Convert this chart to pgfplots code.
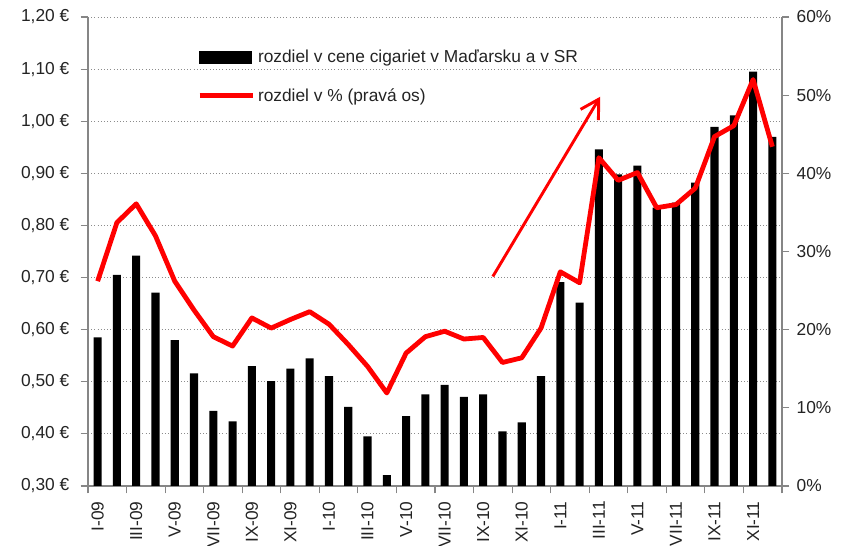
\documentclass[border=0pt]{standalone}
\usepackage{pgfplots}
\pgfplotsset{compat=1.18}
\usepackage{fontspec}
\setmainfont{Liberation Sans}
\usetikzlibrary{arrows.meta}

\definecolor{axgray}{RGB}{134,134,134}
\definecolor{gridgray}{RGB}{140,140,140}
\definecolor{txt}{RGB}{35,35,35}

% rozdiel v cene (EUR), mesacne I-09 .. XII-11
\pgfplotstableread{
x  eur
0  0.585
1  0.705
2  0.742
3  0.671
4  0.580
5  0.516
6  0.444
7  0.424
8  0.530
9  0.501
10 0.525
11 0.545
12 0.511
13 0.452
14 0.395
15 0.321
16 0.434
17 0.476
18 0.494
19 0.471
20 0.476
21 0.405
22 0.422
23 0.511
24 0.691
25 0.652
26 0.946
27 0.898
28 0.915
29 0.834
30 0.844
31 0.882
32 0.989
33 1.011
34 1.095
35 0.970
}\eurdata

% rozdiel v % (prava os)
\pgfplotstableread{
x  pct
0  26.2
1  33.7
2  36.1
3  32.0
4  26.2
5  22.5
6  19.1
7  17.9
8  21.5
9  20.2
10 21.3
11 22.3
12 20.7
13 18.1
14 15.3
15 11.9
16 17.0
17 19.1
18 19.8
19 18.8
20 19.0
21 15.8
22 16.4
23 20.2
24 27.4
25 26.0
26 42.0
27 39.1
28 40.1
29 35.6
30 36.0
31 38.1
32 44.7
33 46.1
34 52.0
35 43.4
}\pctdata

\begin{document}
\begin{tikzpicture}
\pgfplotsset{
  base/.style={
    scale only axis,
    width=520.5pt, height=351.75pt,
    xmin=-0.5, xmax=35.5,
    font=\fontsize{13}{15}\selectfont,
    tick label style={text=txt},
    /pgf/number format/assume math mode=true,
    axis line style={draw=axgray, line width=0.8pt, -},
    tick style={draw=axgray, line width=0.8pt},
    tick align=outside,
    major tick length=5.5pt,
  },
}
\begin{axis}[
  base, name=main,
  axis y line*=left, axis x line*=bottom,
  ymin=0.3, ymax=1.2,
  ytick={0.3,0.4,0.5,0.6,0.7,0.8,0.9,1.0,1.1,1.2},
  yticklabel={\pgfmathprintnumber[fixed,fixed zerofill,precision=2,use comma]{\tick}~€},
  yticklabel style={xshift=-5pt},
  ymajorgrids,
  grid style={draw=gridgray, dotted, line width=0.6pt},
  xtick={0,2,...,34},
  xticklabels={I-09,III-09,V-09,VII-09,IX-09,XI-09,I-10,III-10,V-10,VII-10,IX-10,XI-10,I-11,III-11,V-11,VII-11,IX-11,XI-11},
  xticklabel style={rotate=90, anchor=east, xshift=-2.5pt},
  x tick style={draw=none},
  extra x ticks={-0.5,1.5,...,35.5},
  extra x tick labels={},
  extra x tick style={grid=none, x tick style={draw=axgray, line width=0.8pt}},
]
\addplot[ybar, bar width=0.42, fill=black, draw=none] table[x=x, y=eur] {\eurdata};
\end{axis}

\begin{axis}[
  base,
  axis y line*=right, axis x line=none,
  ymin=0, ymax=60,
  ytick={0,10,...,60},
  yticklabel={\pgfmathprintnumber{\tick}\%},
  yticklabel style={xshift=2pt},
  legend style={at={(rel axis cs:0.157,0.935)}, anchor=north west,
    draw=none, fill=none, inner sep=0pt, row sep=13.5pt,
    font=\fontsize{13}{15}\selectfont, text=txt},
  legend cell align=left,
]
\addlegendimage{legend image code/.code={\fill[black] (0pt,-4.5pt) rectangle (39pt,4.5pt);}}
\addlegendentry{rozdiel v cene cigariet v Maďarsku a v SR}
\addplot[red, line width=3.6pt, line join=round,
  legend image code/.code={\draw[red, line width=3.6pt] (0pt,0pt) -- (40pt,0pt);}]
  table[x=x, y=pct] {\pctdata};
\addlegendentry{rozdiel v \% (pravá os)}
\draw[red, line width=2.2pt, -{Straight Barb[length=13.5pt, width=15.6pt, line width=2.2pt]}]
  (axis cs:20.5,26.8) -- (axis cs:26.07,49.8);
\end{axis}

\pgfresetboundingbox
\path[use as bounding box] ([shift={(-66pt,-45pt)}]main.south west) rectangle ([shift={(47.25pt,12.75pt)}]main.north east);
\end{tikzpicture}
\end{document}
